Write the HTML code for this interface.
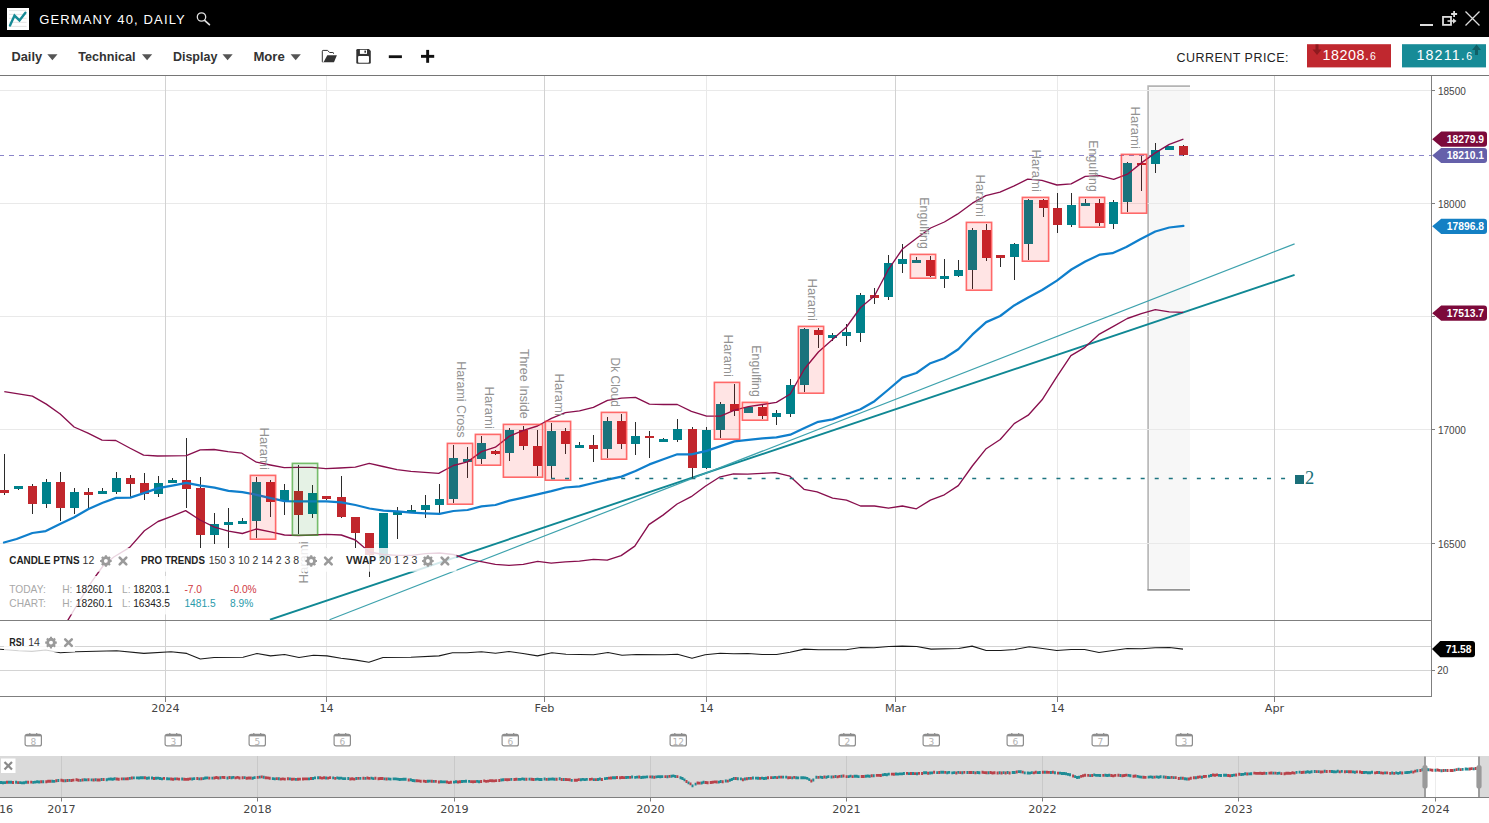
<!DOCTYPE html>
<html><head><meta charset="utf-8"><title>Germany 40, Daily</title>
<style>
html,body{margin:0;padding:0;background:#fff;}
body{width:1489px;height:823px;overflow:hidden;}
svg{display:block;}
text{font-family:"Liberation Sans",Arial,sans-serif;}
.pl{font-size:12.6px;fill:#929292;}
.ax{font-size:10px;fill:#444;}
.tg{font-size:10.3px;font-weight:bold;fill:#fff;}
.dt{font-family:"DejaVu Sans","Liberation Sans",sans-serif;font-size:11.2px;fill:#444;}
.cal{font-family:"DejaVu Sans",sans-serif;font-size:9px;fill:#b3b3b3;}
.lb{font-size:10.6px;font-weight:bold;fill:#222;}
.ln{font-size:10.5px;fill:#333;}
.st{font-size:10.2px;}
.ttl{font-size:13px;fill:#fff;}
.mi{font-size:12.6px;font-weight:bold;fill:#333;}
.cp{font-size:12.5px;fill:#222;}
.pb{font-size:14.3px;fill:#fff;letter-spacing:0.55px;}
</style></head><body>
<svg width="1489" height="823" viewBox="0 0 1489 823">
<defs><clipPath id="cc"><rect x="0" y="76" width="1431" height="544"/></clipPath></defs>
<rect x="0" y="0" width="1489" height="823" fill="#fff"/>
<rect x="1149.4" y="87.4" width="40.6" height="501.2" fill="#f7f7f7"/>
<path d="M1148.1 590 V86.1 H1190" fill="none" stroke="#b4b4b4" stroke-width="1.6"/>
<line x1="1147.4" y1="589.8" x2="1190" y2="589.8" stroke="#959595" stroke-width="1.8"/>
<line x1="0" y1="90.5" x2="1431" y2="90.5" stroke="#e9e9e9"/>
<line x1="0" y1="203.5" x2="1431" y2="203.5" stroke="#e9e9e9"/>
<line x1="0" y1="316.5" x2="1431" y2="316.5" stroke="#e9e9e9"/>
<line x1="0" y1="429.5" x2="1431" y2="429.5" stroke="#e9e9e9"/>
<line x1="0" y1="543.5" x2="1431" y2="543.5" stroke="#e9e9e9"/>
<line x1="165.5" y1="76" x2="165.5" y2="696" stroke="#d2d2d2"/>
<line x1="326.5" y1="76" x2="326.5" y2="696" stroke="#e9e9e9"/>
<line x1="544.5" y1="76" x2="544.5" y2="696" stroke="#d2d2d2"/>
<line x1="706.5" y1="76" x2="706.5" y2="696" stroke="#e9e9e9"/>
<line x1="895.5" y1="76" x2="895.5" y2="696" stroke="#d2d2d2"/>
<line x1="1057.5" y1="76" x2="1057.5" y2="696" stroke="#e9e9e9"/>
<line x1="1274.5" y1="76" x2="1274.5" y2="696" stroke="#d2d2d2"/>
<line x1="0" y1="646.5" x2="1431" y2="646.5" stroke="#d4d4d4"/>
<line x1="0" y1="670.5" x2="1431" y2="670.5" stroke="#d4d4d4"/>
<line x1="0" y1="155.5" x2="1431" y2="155.5" stroke="#8a84c9" stroke-width="1.2" stroke-dasharray="5 5" stroke-dashoffset="1"/>
<line clip-path="url(#cc)" x1="270" y1="619.7" x2="1294.6" y2="274.9" stroke="#108894" stroke-width="1.9"/>
<line clip-path="url(#cc)" x1="329.5" y1="619.7" x2="1294.6" y2="243.9" stroke="#3ea2ad" stroke-width="1.2"/>
<line x1="4.5" y1="454" x2="4.5" y2="495" stroke="#2b2b2b" stroke-width="1"/>
<rect x="0" y="490" width="9" height="3" fill="#c1272d"/>
<line x1="18.5" y1="486" x2="18.5" y2="490" stroke="#2b2b2b" stroke-width="1"/>
<rect x="14" y="486" width="9" height="3" fill="#00818b"/>
<line x1="32.5" y1="484" x2="32.5" y2="514" stroke="#2b2b2b" stroke-width="1"/>
<rect x="28" y="486" width="9" height="18" fill="#c1272d"/>
<line x1="46.5" y1="479" x2="46.5" y2="508" stroke="#2b2b2b" stroke-width="1"/>
<rect x="42" y="482" width="9" height="22" fill="#00818b"/>
<line x1="60.5" y1="472" x2="60.5" y2="521" stroke="#2b2b2b" stroke-width="1"/>
<rect x="56" y="482" width="9" height="26" fill="#c1272d"/>
<line x1="74.5" y1="488" x2="74.5" y2="514" stroke="#2b2b2b" stroke-width="1"/>
<rect x="70" y="492" width="9" height="16" fill="#00818b"/>
<line x1="88.5" y1="488" x2="88.5" y2="508" stroke="#2b2b2b" stroke-width="1"/>
<rect x="84" y="492" width="9" height="3" fill="#c1272d"/>
<line x1="102.5" y1="488" x2="102.5" y2="494" stroke="#2b2b2b" stroke-width="1"/>
<rect x="98" y="491" width="9" height="3" fill="#00818b"/>
<line x1="116.5" y1="472" x2="116.5" y2="494" stroke="#2b2b2b" stroke-width="1"/>
<rect x="112" y="478" width="9" height="14" fill="#00818b"/>
<line x1="130.5" y1="475" x2="130.5" y2="497" stroke="#2b2b2b" stroke-width="1"/>
<rect x="126" y="478" width="9" height="6" fill="#c1272d"/>
<line x1="144.5" y1="473" x2="144.5" y2="500" stroke="#2b2b2b" stroke-width="1"/>
<rect x="140" y="483" width="9" height="11" fill="#c1272d"/>
<line x1="158.5" y1="476" x2="158.5" y2="497" stroke="#2b2b2b" stroke-width="1"/>
<rect x="154" y="483" width="9" height="11" fill="#00818b"/>
<line x1="172.5" y1="478" x2="172.5" y2="483" stroke="#2b2b2b" stroke-width="1"/>
<rect x="168" y="480" width="9" height="3" fill="#00818b"/>
<line x1="186.5" y1="438" x2="186.5" y2="508" stroke="#2b2b2b" stroke-width="1"/>
<rect x="182" y="480" width="9" height="9" fill="#c1272d"/>
<line x1="200.5" y1="477" x2="200.5" y2="548" stroke="#2b2b2b" stroke-width="1"/>
<rect x="196" y="488" width="9" height="47" fill="#c1272d"/>
<line x1="214.5" y1="513" x2="214.5" y2="544" stroke="#2b2b2b" stroke-width="1"/>
<rect x="210" y="524" width="9" height="11" fill="#00818b"/>
<line x1="228.5" y1="508" x2="228.5" y2="548" stroke="#2b2b2b" stroke-width="1"/>
<rect x="224" y="522" width="9" height="3" fill="#00818b"/>
<line x1="242.5" y1="518" x2="242.5" y2="524" stroke="#2b2b2b" stroke-width="1"/>
<rect x="238" y="521" width="9" height="3" fill="#00818b"/>
<line x1="256.5" y1="477" x2="256.5" y2="538" stroke="#2b2b2b" stroke-width="1"/>
<rect x="252" y="482" width="9" height="39" fill="#00818b"/>
<line x1="270.5" y1="480" x2="270.5" y2="517" stroke="#2b2b2b" stroke-width="1"/>
<rect x="266" y="482" width="9" height="20" fill="#c1272d"/>
<line x1="284.5" y1="484" x2="284.5" y2="515" stroke="#2b2b2b" stroke-width="1"/>
<rect x="280" y="490" width="9" height="11" fill="#00818b"/>
<line x1="298.5" y1="465" x2="298.5" y2="534" stroke="#2b2b2b" stroke-width="1"/>
<rect x="294" y="491" width="9" height="24" fill="#c1272d"/>
<line x1="312.5" y1="485" x2="312.5" y2="518" stroke="#2b2b2b" stroke-width="1"/>
<rect x="308" y="493" width="9" height="21" fill="#00818b"/>
<line x1="326.5" y1="496" x2="326.5" y2="500" stroke="#2b2b2b" stroke-width="1"/>
<rect x="322" y="496" width="9" height="3" fill="#c1272d"/>
<line x1="341.5" y1="476" x2="341.5" y2="518" stroke="#2b2b2b" stroke-width="1"/>
<rect x="337" y="497" width="9" height="20" fill="#c1272d"/>
<line x1="355.5" y1="517" x2="355.5" y2="548" stroke="#2b2b2b" stroke-width="1"/>
<rect x="351" y="517" width="9" height="16" fill="#c1272d"/>
<line x1="369.5" y1="533" x2="369.5" y2="577" stroke="#2b2b2b" stroke-width="1"/>
<rect x="365" y="533" width="9" height="22" fill="#c1272d"/>
<line x1="383.5" y1="513" x2="383.5" y2="561" stroke="#2b2b2b" stroke-width="1"/>
<rect x="379" y="513" width="9" height="48" fill="#00818b"/>
<line x1="397.5" y1="507" x2="397.5" y2="539" stroke="#2b2b2b" stroke-width="1"/>
<rect x="393" y="511" width="9" height="4" fill="#00818b"/>
<line x1="411.5" y1="505" x2="411.5" y2="513" stroke="#2b2b2b" stroke-width="1"/>
<rect x="407" y="510" width="9" height="3" fill="#00818b"/>
<line x1="425.5" y1="495" x2="425.5" y2="518" stroke="#2b2b2b" stroke-width="1"/>
<rect x="421" y="505" width="9" height="5" fill="#00818b"/>
<line x1="439.5" y1="484" x2="439.5" y2="515" stroke="#2b2b2b" stroke-width="1"/>
<rect x="435" y="499" width="9" height="6" fill="#00818b"/>
<line x1="453.5" y1="445" x2="453.5" y2="503" stroke="#2b2b2b" stroke-width="1"/>
<rect x="449" y="458" width="9" height="41" fill="#00818b"/>
<line x1="467.5" y1="447" x2="467.5" y2="478" stroke="#2b2b2b" stroke-width="1"/>
<rect x="463" y="459" width="9" height="3" fill="#00818b"/>
<line x1="481.5" y1="436" x2="481.5" y2="464" stroke="#2b2b2b" stroke-width="1"/>
<rect x="477" y="443" width="9" height="16" fill="#00818b"/>
<line x1="495.5" y1="450" x2="495.5" y2="455" stroke="#2b2b2b" stroke-width="1"/>
<rect x="491" y="451" width="9" height="3" fill="#c1272d"/>
<line x1="509.5" y1="428" x2="509.5" y2="461" stroke="#2b2b2b" stroke-width="1"/>
<rect x="505" y="430" width="9" height="23" fill="#00818b"/>
<line x1="523.5" y1="426" x2="523.5" y2="450" stroke="#2b2b2b" stroke-width="1"/>
<rect x="519" y="430" width="9" height="16" fill="#c1272d"/>
<line x1="537.5" y1="430" x2="537.5" y2="476" stroke="#2b2b2b" stroke-width="1"/>
<rect x="533" y="446" width="9" height="20" fill="#c1272d"/>
<line x1="551.5" y1="423" x2="551.5" y2="479" stroke="#2b2b2b" stroke-width="1"/>
<rect x="547" y="431" width="9" height="35" fill="#00818b"/>
<line x1="565.5" y1="428" x2="565.5" y2="454" stroke="#2b2b2b" stroke-width="1"/>
<rect x="561" y="431" width="9" height="13" fill="#c1272d"/>
<line x1="579.5" y1="442" x2="579.5" y2="448" stroke="#2b2b2b" stroke-width="1"/>
<rect x="575" y="445" width="9" height="3" fill="#00818b"/>
<line x1="593.5" y1="435" x2="593.5" y2="462" stroke="#2b2b2b" stroke-width="1"/>
<rect x="589" y="445" width="9" height="4" fill="#c1272d"/>
<line x1="607.5" y1="417" x2="607.5" y2="458" stroke="#2b2b2b" stroke-width="1"/>
<rect x="603" y="421" width="9" height="28" fill="#00818b"/>
<line x1="621.5" y1="414" x2="621.5" y2="449" stroke="#2b2b2b" stroke-width="1"/>
<rect x="617" y="421" width="9" height="23" fill="#c1272d"/>
<line x1="635.5" y1="422" x2="635.5" y2="455" stroke="#2b2b2b" stroke-width="1"/>
<rect x="631" y="436" width="9" height="8" fill="#00818b"/>
<line x1="649.5" y1="431" x2="649.5" y2="458" stroke="#2b2b2b" stroke-width="1"/>
<rect x="645" y="436" width="9" height="2" fill="#c1272d"/>
<line x1="663.5" y1="438" x2="663.5" y2="442" stroke="#2b2b2b" stroke-width="1"/>
<rect x="659" y="439" width="9" height="3" fill="#00818b"/>
<line x1="677.5" y1="419" x2="677.5" y2="442" stroke="#2b2b2b" stroke-width="1"/>
<rect x="673" y="429" width="9" height="11" fill="#00818b"/>
<line x1="692.5" y1="427" x2="692.5" y2="478" stroke="#2b2b2b" stroke-width="1"/>
<rect x="688" y="429" width="9" height="39" fill="#c1272d"/>
<line x1="706.5" y1="427" x2="706.5" y2="469" stroke="#2b2b2b" stroke-width="1"/>
<rect x="702" y="430" width="9" height="38" fill="#00818b"/>
<line x1="720.5" y1="402" x2="720.5" y2="438" stroke="#2b2b2b" stroke-width="1"/>
<rect x="716" y="404" width="9" height="26" fill="#00818b"/>
<line x1="734.5" y1="384" x2="734.5" y2="416" stroke="#2b2b2b" stroke-width="1"/>
<rect x="730" y="404" width="9" height="7" fill="#c1272d"/>
<line x1="748.5" y1="406" x2="748.5" y2="413" stroke="#2b2b2b" stroke-width="1"/>
<rect x="744" y="407" width="9" height="6" fill="#00818b"/>
<line x1="762.5" y1="404" x2="762.5" y2="419" stroke="#2b2b2b" stroke-width="1"/>
<rect x="758" y="407" width="9" height="9" fill="#c1272d"/>
<line x1="776.5" y1="410" x2="776.5" y2="425" stroke="#2b2b2b" stroke-width="1"/>
<rect x="772" y="413" width="9" height="4" fill="#00818b"/>
<line x1="790.5" y1="379" x2="790.5" y2="417" stroke="#2b2b2b" stroke-width="1"/>
<rect x="786" y="385" width="9" height="29" fill="#00818b"/>
<line x1="804.5" y1="328" x2="804.5" y2="392" stroke="#2b2b2b" stroke-width="1"/>
<rect x="800" y="329" width="9" height="56" fill="#00818b"/>
<line x1="818.5" y1="328" x2="818.5" y2="348" stroke="#2b2b2b" stroke-width="1"/>
<rect x="814" y="330" width="9" height="5" fill="#c1272d"/>
<line x1="832.5" y1="333" x2="832.5" y2="341" stroke="#2b2b2b" stroke-width="1"/>
<rect x="828" y="335" width="9" height="3" fill="#00818b"/>
<line x1="846.5" y1="324" x2="846.5" y2="346" stroke="#2b2b2b" stroke-width="1"/>
<rect x="842" y="332" width="9" height="4" fill="#00818b"/>
<line x1="860.5" y1="293" x2="860.5" y2="342" stroke="#2b2b2b" stroke-width="1"/>
<rect x="856" y="295" width="9" height="38" fill="#00818b"/>
<line x1="874.5" y1="288" x2="874.5" y2="304" stroke="#2b2b2b" stroke-width="1"/>
<rect x="870" y="295" width="9" height="3" fill="#c1272d"/>
<line x1="888.5" y1="255" x2="888.5" y2="300" stroke="#2b2b2b" stroke-width="1"/>
<rect x="884" y="263" width="9" height="34" fill="#00818b"/>
<line x1="902.5" y1="244" x2="902.5" y2="273" stroke="#2b2b2b" stroke-width="1"/>
<rect x="898" y="259" width="9" height="5" fill="#00818b"/>
<line x1="916.5" y1="257" x2="916.5" y2="263" stroke="#2b2b2b" stroke-width="1"/>
<rect x="912" y="260" width="9" height="3" fill="#00818b"/>
<line x1="930.5" y1="256" x2="930.5" y2="277" stroke="#2b2b2b" stroke-width="1"/>
<rect x="926" y="260" width="9" height="16" fill="#c1272d"/>
<line x1="944.5" y1="259" x2="944.5" y2="288" stroke="#2b2b2b" stroke-width="1"/>
<rect x="940" y="276" width="9" height="3" fill="#00818b"/>
<line x1="958.5" y1="260" x2="958.5" y2="277" stroke="#2b2b2b" stroke-width="1"/>
<rect x="954" y="270" width="9" height="6" fill="#00818b"/>
<line x1="972.5" y1="228" x2="972.5" y2="289" stroke="#2b2b2b" stroke-width="1"/>
<rect x="968" y="230" width="9" height="40" fill="#00818b"/>
<line x1="986.5" y1="224" x2="986.5" y2="261" stroke="#2b2b2b" stroke-width="1"/>
<rect x="982" y="230" width="9" height="28" fill="#c1272d"/>
<line x1="1000.5" y1="255" x2="1000.5" y2="267" stroke="#2b2b2b" stroke-width="1"/>
<rect x="996" y="255" width="9" height="3" fill="#c1272d"/>
<line x1="1014.5" y1="243" x2="1014.5" y2="280" stroke="#2b2b2b" stroke-width="1"/>
<rect x="1010" y="244" width="9" height="13" fill="#00818b"/>
<line x1="1028.5" y1="199" x2="1028.5" y2="260" stroke="#2b2b2b" stroke-width="1"/>
<rect x="1024" y="200" width="9" height="44" fill="#00818b"/>
<line x1="1043.5" y1="199" x2="1043.5" y2="217" stroke="#2b2b2b" stroke-width="1"/>
<rect x="1039" y="200" width="9" height="8" fill="#c1272d"/>
<line x1="1057.5" y1="193" x2="1057.5" y2="233" stroke="#2b2b2b" stroke-width="1"/>
<rect x="1053" y="208" width="9" height="17" fill="#c1272d"/>
<line x1="1071.5" y1="193" x2="1071.5" y2="227" stroke="#2b2b2b" stroke-width="1"/>
<rect x="1067" y="205" width="9" height="20" fill="#00818b"/>
<line x1="1085.5" y1="199" x2="1085.5" y2="206" stroke="#2b2b2b" stroke-width="1"/>
<rect x="1081" y="203" width="9" height="3" fill="#00818b"/>
<line x1="1099.5" y1="199" x2="1099.5" y2="226" stroke="#2b2b2b" stroke-width="1"/>
<rect x="1095" y="203" width="9" height="20" fill="#c1272d"/>
<line x1="1113.5" y1="200" x2="1113.5" y2="229" stroke="#2b2b2b" stroke-width="1"/>
<rect x="1109" y="202" width="9" height="22" fill="#00818b"/>
<line x1="1127.5" y1="162" x2="1127.5" y2="212" stroke="#2b2b2b" stroke-width="1"/>
<rect x="1123" y="163" width="9" height="39" fill="#00818b"/>
<line x1="1141.5" y1="156" x2="1141.5" y2="191" stroke="#2b2b2b" stroke-width="1"/>
<rect x="1137" y="163" width="9" height="2" fill="#c1272d"/>
<line x1="1155.5" y1="143" x2="1155.5" y2="173" stroke="#2b2b2b" stroke-width="1"/>
<rect x="1151" y="150" width="9" height="14" fill="#00818b"/>
<line x1="1169.5" y1="146" x2="1169.5" y2="150" stroke="#2b2b2b" stroke-width="1"/>
<rect x="1165" y="146" width="9" height="4" fill="#00818b"/>
<line x1="1183.5" y1="145" x2="1183.5" y2="156" stroke="#2b2b2b" stroke-width="1"/>
<rect x="1179" y="146" width="9" height="9" fill="#c1272d"/>
<polyline points="4.3,391.7 32.4,396.1 46.3,404.1 60.2,414 74.1,427 88,433.1 102,440.2 115.8,440.5 129.7,448 143.6,455.1 157.5,456 186.3,455.7 200.2,449.8 214,449.5 228,451.7 241.9,453.2 256.4,462.2 270.3,465 284.2,467.7 298.1,467.4 312,467.4 325.9,468.7 339.8,468 355.3,467.1 369.2,463.4 383,466.5 397,469.6 410.9,471.4 438.7,473.3 453.4,465.5 467.5,461.9 481.5,451.6 495.4,447.2 509.5,436.1 523.4,430.3 537.5,426 551.4,418.4 565.4,412.6 579.5,410.9 593.4,407.4 607.5,400.3 621.5,398.2 635.5,397.4 649.4,404.2 663.4,404.5 677.3,404.5 691.4,411.3 706.6,416.1 720.5,416.1 734.5,410.2 748.4,406.6 762.5,404.5 776.4,402.3 790.3,394 804.4,369 818.4,352 832.5,339.5 846.5,327 860.6,307.5 874.4,296 888.5,269.3 902.5,249 916.6,238.3 930.6,228 944.4,222 957.4,214.2 972.4,203.2 985.8,195.6 1000,192.1 1014.2,185.8 1027.7,179.2 1041.9,180.3 1056.9,185 1071.1,183.9 1085.3,176.3 1099.5,175.7 1113.7,179.3 1127.4,174.2 1141.5,162.9 1155.3,152.9 1169.3,144.3 1183.4,139.2" fill="none" stroke="#880f4d" stroke-width="1.35" stroke-linejoin="round"/>
<polyline clip-path="url(#cc)" points="60.6,632 67.9,620.2 74.6,609 80.6,599.1 88.6,586.5 92.1,581.2 103,566 113.8,557 129.7,547.4 144.4,530.8 158,521.5 172.2,516.1 185.6,510.6 200,520 214.5,527.2 228.5,531.1 242.4,533.5 256.5,529 270.6,531.9 284.5,535 298.5,535.5 312.6,535 326.5,534.3 341.3,535 355.4,540 369.4,552 383.4,554.5 397.3,555.3 411.4,555.3 425.5,553.7 439.5,553 453.4,554.5 467.5,559.3 481.2,561.6 495.3,564.3 509,565.3 523.3,564.3 537.7,561.4 551.2,563.2 565.3,561.8 579.4,561.2 593.5,559.4 607.2,560.2 621.1,555.6 634.8,546.1 648.9,524.6 663,515.1 677.1,504 691.2,496.7 705.3,486.3 719.4,477.2 733.5,473.8 747.6,474.2 761.7,473.4 775.4,472.6 789.9,476.2 804,489.3 817.1,491.9 832.6,498.2 846.5,500.1 860.5,506 874.5,506 888.5,508.2 902.4,506 916.4,508.8 930.4,500.1 944.3,494.8 958.3,485.6 972.3,466 986.2,448.7 1000.2,439.5 1014.2,423.6 1028.2,415.2 1042.1,399.8 1056.9,376.6 1070.9,355.7 1084.9,347.3 1099.4,334.1 1113.4,326.3 1127.3,318.5 1141.3,313.7 1155.3,309.6 1169.3,311.8 1183.2,312.4" fill="none" stroke="#880f4d" stroke-width="1.35" stroke-linejoin="round"/>
<polyline points="4,542.5 16.6,539 32.4,533 45.8,531.1 60,524 74.2,517.2 88.5,509 102.7,502.7 116.1,497.9 130.3,497.6 144.5,492.9 158.3,488.1 172.2,485.6 186.4,482.9 200.6,485.6 214.5,487.7 228.5,490.8 242.4,492.1 256.5,494.8 270.6,498.2 284.5,501.1 298.5,501.4 312.6,501.4 326.5,501.4 341.3,502.4 355.4,505 369.5,508.5 383.5,510.6 397.3,511.4 411.4,512.7 425.5,513.4 439.5,513.9 453.4,511 467.5,510 481.5,506.4 495.4,505 509.5,500.7 523.4,497.6 537.5,494.3 551.4,491.1 565.4,487.5 579.5,486.4 593.4,483 607.5,479.7 621.5,476.6 635.5,471 649.4,464.4 663.4,459.3 677.3,454.3 691.4,454.3 706.6,450.9 720.5,446.1 734.5,441.4 748.4,439.8 762.5,438.4 776.4,437.4 790.3,434.7 804.5,428 818.2,421.8 832.6,419.4 846.5,414.3 860.5,409.3 874.5,401.2 888.5,389.5 902.4,377.6 916.4,373 930.4,363.2 944.3,358.3 958.3,349.2 972.3,334.7 986.2,322.1 1000.2,316 1014.2,305.4 1028.2,297.5 1042.1,290 1056.9,280.6 1071.4,269.5 1085.3,261.6 1100,254.6 1112.4,253.2 1126.3,247 1140.3,239.2 1155.3,231.5 1169.3,227.5 1183.4,225.8" fill="none" stroke="#0f7fcc" stroke-width="2.25" stroke-linejoin="round" stroke-linecap="round"/>
<rect x="249.6" y="474.6" width="26.8" height="65.4" fill="#ff0000" fill-opacity="0.105"/>
<rect x="250.4" y="475.4" width="25.2" height="63.8" fill="none" stroke="#ff4040" stroke-opacity="0.75" stroke-width="1.6"/>
<rect x="291.6" y="462.6" width="26.8" height="73.4" fill="#008000" fill-opacity="0.1"/>
<rect x="292.4" y="463.4" width="25.2" height="71.8" fill="none" stroke="#3aa02a" stroke-opacity="0.65" stroke-width="1.6"/>
<rect x="446.6" y="442.6" width="26.8" height="62.4" fill="#ff0000" fill-opacity="0.105"/>
<rect x="447.4" y="443.4" width="25.2" height="60.8" fill="none" stroke="#ff4040" stroke-opacity="0.75" stroke-width="1.6"/>
<rect x="474.6" y="433.6" width="26.8" height="32.4" fill="#ff0000" fill-opacity="0.105"/>
<rect x="475.4" y="434.4" width="25.2" height="30.8" fill="none" stroke="#ff4040" stroke-opacity="0.75" stroke-width="1.6"/>
<rect x="502.6" y="423.6" width="40.8" height="54.4" fill="#ff0000" fill-opacity="0.105"/>
<rect x="503.4" y="424.4" width="39.2" height="52.8" fill="none" stroke="#ff4040" stroke-opacity="0.75" stroke-width="1.6"/>
<rect x="544.6" y="420.6" width="26.8" height="60.4" fill="#ff0000" fill-opacity="0.105"/>
<rect x="545.4" y="421.4" width="25.2" height="58.8" fill="none" stroke="#ff4040" stroke-opacity="0.75" stroke-width="1.6"/>
<rect x="600.6" y="411.6" width="26.8" height="48.4" fill="#ff0000" fill-opacity="0.105"/>
<rect x="601.4" y="412.4" width="25.2" height="46.8" fill="none" stroke="#ff4040" stroke-opacity="0.75" stroke-width="1.6"/>
<rect x="713.6" y="381.6" width="26.8" height="58.4" fill="#ff0000" fill-opacity="0.105"/>
<rect x="714.4" y="382.4" width="25.2" height="56.8" fill="none" stroke="#ff4040" stroke-opacity="0.75" stroke-width="1.6"/>
<rect x="741.6" y="401.6" width="26.8" height="19.4" fill="#ff0000" fill-opacity="0.105"/>
<rect x="742.4" y="402.4" width="25.2" height="17.8" fill="none" stroke="#ff4040" stroke-opacity="0.75" stroke-width="1.6"/>
<rect x="797.6" y="325.6" width="26.8" height="68.4" fill="#ff0000" fill-opacity="0.105"/>
<rect x="798.4" y="326.4" width="25.2" height="66.8" fill="none" stroke="#ff4040" stroke-opacity="0.75" stroke-width="1.6"/>
<rect x="909.6" y="253.6" width="26.8" height="25.4" fill="#ff0000" fill-opacity="0.105"/>
<rect x="910.4" y="254.4" width="25.2" height="23.8" fill="none" stroke="#ff4040" stroke-opacity="0.75" stroke-width="1.6"/>
<rect x="965.6" y="221.6" width="26.8" height="69.4" fill="#ff0000" fill-opacity="0.105"/>
<rect x="966.4" y="222.4" width="25.2" height="67.8" fill="none" stroke="#ff4040" stroke-opacity="0.75" stroke-width="1.6"/>
<rect x="1021.6" y="196.6" width="27.8" height="65.4" fill="#ff0000" fill-opacity="0.105"/>
<rect x="1022.4" y="197.4" width="26.2" height="63.8" fill="none" stroke="#ff4040" stroke-opacity="0.75" stroke-width="1.6"/>
<rect x="1078.6" y="196.6" width="26.8" height="31.4" fill="#ff0000" fill-opacity="0.105"/>
<rect x="1079.4" y="197.4" width="25.2" height="29.8" fill="none" stroke="#ff4040" stroke-opacity="0.75" stroke-width="1.6"/>
<rect x="1120.6" y="153.6" width="26.8" height="60.4" fill="#ff0000" fill-opacity="0.105"/>
<rect x="1121.4" y="154.4" width="25.2" height="58.8" fill="none" stroke="#ff4040" stroke-opacity="0.75" stroke-width="1.6"/>
<line x1="551" y1="478.6" x2="1285.5" y2="478.6" stroke="#1d7480" stroke-width="1.5" stroke-dasharray="4 10.04"/>
<rect x="1295" y="475" width="9" height="9" fill="#1a6f79"/>
<text x="1305" y="484" style="font-family:'Liberation Serif',serif;font-size:18.5px" fill="#1a6f79">2</text>
<text transform="translate(259.9,469.8) rotate(90)" text-anchor="end" class="pl" textLength="42.3" lengthAdjust="spacingAndGlyphs">Harami</text>
<text transform="translate(308.1,541.3) rotate(-90)" text-anchor="end" class="pl" textLength="42.3" lengthAdjust="spacingAndGlyphs">Harami</text>
<text transform="translate(456.9,437.8) rotate(90)" text-anchor="end" class="pl" textLength="76.5" lengthAdjust="spacingAndGlyphs">Harami Cross</text>
<text transform="translate(484.9,428.8) rotate(90)" text-anchor="end" class="pl" textLength="42.3" lengthAdjust="spacingAndGlyphs">Harami</text>
<text transform="translate(519.9,418.8) rotate(90)" text-anchor="end" class="pl" textLength="69.9" lengthAdjust="spacingAndGlyphs">Three Inside</text>
<text transform="translate(554.9,415.8) rotate(90)" text-anchor="end" class="pl" textLength="42.3" lengthAdjust="spacingAndGlyphs">Harami</text>
<text transform="translate(610.9,406.8) rotate(90)" text-anchor="end" class="pl" textLength="49.2" lengthAdjust="spacingAndGlyphs">Dk Cloud</text>
<text transform="translate(723.9,376.8) rotate(90)" text-anchor="end" class="pl" textLength="42.3" lengthAdjust="spacingAndGlyphs">Harami</text>
<text transform="translate(751.9,396.8) rotate(90)" text-anchor="end" class="pl" textLength="51.5" lengthAdjust="spacingAndGlyphs">Engulfing</text>
<text transform="translate(807.9,320.8) rotate(90)" text-anchor="end" class="pl" textLength="42.3" lengthAdjust="spacingAndGlyphs">Harami</text>
<text transform="translate(919.9,248.8) rotate(90)" text-anchor="end" class="pl" textLength="51.5" lengthAdjust="spacingAndGlyphs">Engulfing</text>
<text transform="translate(975.9,216.8) rotate(90)" text-anchor="end" class="pl" textLength="42.3" lengthAdjust="spacingAndGlyphs">Harami</text>
<text transform="translate(1032.4,191.8) rotate(90)" text-anchor="end" class="pl" textLength="42.3" lengthAdjust="spacingAndGlyphs">Harami</text>
<text transform="translate(1088.9,191.8) rotate(90)" text-anchor="end" class="pl" textLength="51.5" lengthAdjust="spacingAndGlyphs">Engulfing</text>
<text transform="translate(1130.9,148.8) rotate(90)" text-anchor="end" class="pl" textLength="42.3" lengthAdjust="spacingAndGlyphs">Harami</text>
<rect x="0" y="548" width="456.5" height="23.7" fill="#fff" fill-opacity="0.82"/>
<rect x="0" y="576" width="262" height="38.4" fill="#fff" fill-opacity="0.82"/>
<polyline points="0,649.3 18.5,650.7 32,651.4 45.7,650 60.3,652.8 75.8,651.8 116.7,650.8 143.9,653.4 171,651.8 186.7,653.4 200.3,659 214.1,657.5 243,657.2 257,653.5 270.5,655.9 284.6,654.5 299,657.5 313.5,655.2 327,655.9 341,658.2 354.5,659.9 368.9,662.2 383,657.5 410.9,657.2 439,655.9 452.5,652.8 467,652.8 481.4,651.8 495.5,653.2 509,651.5 523,653.5 537.5,655.9 551.9,652.8 566,654.2 593.5,654.8 608,652.5 622,655.2 636.5,654.5 664.4,654.8 677.5,654.2 692,658.2 705.1,654.8 720.2,653.2 733.7,653.8 747.8,653.5 762.2,654.5 776.6,654.5 790,652.2 804.2,649.1 818.6,649.8 846.1,649.8 860.6,647.5 874,647.8 888.8,646.5 902.2,646.1 916.7,646.5 931.1,649.1 958.6,648.5 972.1,646.1 986.2,650.5 1000.6,650.5 1015,649.5 1029.2,646.8 1042.6,648.5 1056.7,650.5 1071.1,649.5 1084.6,649.5 1099,652.5 1113.1,650.5 1127.2,648.5 1141.6,648.8 1155.1,647.8 1169.5,647.5 1183,649.1" fill="none" stroke="#1a1a1a" stroke-width="1.1" stroke-linejoin="round"/>
<rect x="4" y="633" width="71" height="19" fill="#fff" fill-opacity="0.8"/>
<line x1="0" y1="75.5" x2="1489" y2="75.5" stroke="#767676"/>
<line x1="0" y1="620.5" x2="1431" y2="620.5" stroke="#7f7f7f"/>
<line x1="0" y1="696.5" x2="1432" y2="696.5" stroke="#7f7f7f"/>
<line x1="1431.5" y1="76" x2="1431.5" y2="697" stroke="#7f7f7f"/>
<line x1="1431" y1="316.5" x2="1435" y2="316.5" stroke="#7f7f7f"/>
<line x1="1431" y1="90.5" x2="1435" y2="90.5" stroke="#7f7f7f"/>
<text x="1438" y="94.8" class="ax">18500</text>
<line x1="1431" y1="203.5" x2="1435" y2="203.5" stroke="#7f7f7f"/>
<text x="1438" y="207.8" class="ax">18000</text>
<line x1="1431" y1="429.5" x2="1435" y2="429.5" stroke="#7f7f7f"/>
<text x="1438" y="433.8" class="ax">17000</text>
<line x1="1431" y1="543.5" x2="1435" y2="543.5" stroke="#7f7f7f"/>
<text x="1438" y="547.8" class="ax">16500</text>
<line x1="1431" y1="670.5" x2="1435" y2="670.5" stroke="#7f7f7f"/>
<text x="1437.2" y="673.6" class="ax">20</text>
<path d="M1432.2 139.2 L1441.2 131.6 H1484 Q1487 131.6 1487 134.6 V143.8 Q1487 146.8 1484 146.8 H1441.2 Z" fill="#7c0a3b"/>
<text x="1484" y="142.8" class="tg" text-anchor="end">18279.9</text>
<path d="M1432.2 155.5 L1441.2 147.9 H1484 Q1487 147.9 1487 150.9 V160.1 Q1487 163.1 1484 163.1 H1441.2 Z" fill="#6560aa"/>
<text x="1484" y="159.1" class="tg" text-anchor="end">18210.1</text>
<path d="M1432.2 226.3 L1441.2 218.7 H1484 Q1487 218.7 1487 221.7 V230.9 Q1487 233.9 1484 233.9 H1441.2 Z" fill="#1480c4"/>
<text x="1484" y="229.9" class="tg" text-anchor="end">17896.8</text>
<path d="M1432.2 313.2 L1441.2 305.6 H1484 Q1487 305.6 1487 308.6 V317.8 Q1487 320.8 1484 320.8 H1441.2 Z" fill="#7c0a3b"/>
<text x="1484" y="316.8" class="tg" text-anchor="end">17513.7</text>
<path d="M1432 649.1 L1440.3 641.1 H1472 Q1475 641.1 1475 644.1 V654.2 Q1475 657.2 1472 657.2 H1440.3 Z" fill="#000"/>
<text x="1471.5" y="653" class="tg" text-anchor="end">71.58</text>
<line x1="165.5" y1="696" x2="165.5" y2="702" stroke="#7f7f7f"/>
<text x="165.5" y="712" class="dt" text-anchor="middle">2024</text>
<line x1="326.5" y1="696" x2="326.5" y2="702" stroke="#7f7f7f"/>
<text x="326.5" y="712" class="dt" text-anchor="middle">14</text>
<line x1="544.5" y1="696" x2="544.5" y2="702" stroke="#7f7f7f"/>
<text x="544.5" y="712" class="dt" text-anchor="middle">Feb</text>
<line x1="706.5" y1="696" x2="706.5" y2="702" stroke="#7f7f7f"/>
<text x="706.5" y="712" class="dt" text-anchor="middle">14</text>
<line x1="895.5" y1="696" x2="895.5" y2="702" stroke="#7f7f7f"/>
<text x="895.5" y="712" class="dt" text-anchor="middle">Mar</text>
<line x1="1057.5" y1="696" x2="1057.5" y2="702" stroke="#7f7f7f"/>
<text x="1057.5" y="712" class="dt" text-anchor="middle">14</text>
<line x1="1274.5" y1="696" x2="1274.5" y2="702" stroke="#7f7f7f"/>
<text x="1274.5" y="712" class="dt" text-anchor="middle">Apr</text>
<g transform="translate(24.5,733)"><rect x="0.6" y="1.3" width="16.3" height="11.6" rx="2" fill="#fff" stroke="#8d8d8d" stroke-width="1.2"/><line x1="1" y1="2.6" x2="16.5" y2="2.6" stroke="#8d8d8d" stroke-width="1.6"/><line x1="5.3" y1="0" x2="5.3" y2="2" stroke="#8d8d8d" stroke-width="1.2"/><line x1="12.2" y1="0" x2="12.2" y2="2" stroke="#8d8d8d" stroke-width="1.2"/><text x="8.75" y="11.6" text-anchor="middle" class="cal">8</text></g>
<g transform="translate(164.5,733)"><rect x="0.6" y="1.3" width="16.3" height="11.6" rx="2" fill="#fff" stroke="#8d8d8d" stroke-width="1.2"/><line x1="1" y1="2.6" x2="16.5" y2="2.6" stroke="#8d8d8d" stroke-width="1.6"/><line x1="5.3" y1="0" x2="5.3" y2="2" stroke="#8d8d8d" stroke-width="1.2"/><line x1="12.2" y1="0" x2="12.2" y2="2" stroke="#8d8d8d" stroke-width="1.2"/><text x="8.75" y="11.6" text-anchor="middle" class="cal">3</text></g>
<g transform="translate(248.5,733)"><rect x="0.6" y="1.3" width="16.3" height="11.6" rx="2" fill="#fff" stroke="#8d8d8d" stroke-width="1.2"/><line x1="1" y1="2.6" x2="16.5" y2="2.6" stroke="#8d8d8d" stroke-width="1.6"/><line x1="5.3" y1="0" x2="5.3" y2="2" stroke="#8d8d8d" stroke-width="1.2"/><line x1="12.2" y1="0" x2="12.2" y2="2" stroke="#8d8d8d" stroke-width="1.2"/><text x="8.75" y="11.6" text-anchor="middle" class="cal">5</text></g>
<g transform="translate(333.5,733)"><rect x="0.6" y="1.3" width="16.3" height="11.6" rx="2" fill="#fff" stroke="#8d8d8d" stroke-width="1.2"/><line x1="1" y1="2.6" x2="16.5" y2="2.6" stroke="#8d8d8d" stroke-width="1.6"/><line x1="5.3" y1="0" x2="5.3" y2="2" stroke="#8d8d8d" stroke-width="1.2"/><line x1="12.2" y1="0" x2="12.2" y2="2" stroke="#8d8d8d" stroke-width="1.2"/><text x="8.75" y="11.6" text-anchor="middle" class="cal">6</text></g>
<g transform="translate(501.5,733)"><rect x="0.6" y="1.3" width="16.3" height="11.6" rx="2" fill="#fff" stroke="#8d8d8d" stroke-width="1.2"/><line x1="1" y1="2.6" x2="16.5" y2="2.6" stroke="#8d8d8d" stroke-width="1.6"/><line x1="5.3" y1="0" x2="5.3" y2="2" stroke="#8d8d8d" stroke-width="1.2"/><line x1="12.2" y1="0" x2="12.2" y2="2" stroke="#8d8d8d" stroke-width="1.2"/><text x="8.75" y="11.6" text-anchor="middle" class="cal">6</text></g>
<g transform="translate(669.5,733)"><rect x="0.6" y="1.3" width="16.3" height="11.6" rx="2" fill="#fff" stroke="#8d8d8d" stroke-width="1.2"/><line x1="1" y1="2.6" x2="16.5" y2="2.6" stroke="#8d8d8d" stroke-width="1.6"/><line x1="5.3" y1="0" x2="5.3" y2="2" stroke="#8d8d8d" stroke-width="1.2"/><line x1="12.2" y1="0" x2="12.2" y2="2" stroke="#8d8d8d" stroke-width="1.2"/><text x="8.75" y="11.6" text-anchor="middle" class="cal">12</text></g>
<g transform="translate(838.5,733)"><rect x="0.6" y="1.3" width="16.3" height="11.6" rx="2" fill="#fff" stroke="#8d8d8d" stroke-width="1.2"/><line x1="1" y1="2.6" x2="16.5" y2="2.6" stroke="#8d8d8d" stroke-width="1.6"/><line x1="5.3" y1="0" x2="5.3" y2="2" stroke="#8d8d8d" stroke-width="1.2"/><line x1="12.2" y1="0" x2="12.2" y2="2" stroke="#8d8d8d" stroke-width="1.2"/><text x="8.75" y="11.6" text-anchor="middle" class="cal">2</text></g>
<g transform="translate(922.5,733)"><rect x="0.6" y="1.3" width="16.3" height="11.6" rx="2" fill="#fff" stroke="#8d8d8d" stroke-width="1.2"/><line x1="1" y1="2.6" x2="16.5" y2="2.6" stroke="#8d8d8d" stroke-width="1.6"/><line x1="5.3" y1="0" x2="5.3" y2="2" stroke="#8d8d8d" stroke-width="1.2"/><line x1="12.2" y1="0" x2="12.2" y2="2" stroke="#8d8d8d" stroke-width="1.2"/><text x="8.75" y="11.6" text-anchor="middle" class="cal">3</text></g>
<g transform="translate(1006.5,733)"><rect x="0.6" y="1.3" width="16.3" height="11.6" rx="2" fill="#fff" stroke="#8d8d8d" stroke-width="1.2"/><line x1="1" y1="2.6" x2="16.5" y2="2.6" stroke="#8d8d8d" stroke-width="1.6"/><line x1="5.3" y1="0" x2="5.3" y2="2" stroke="#8d8d8d" stroke-width="1.2"/><line x1="12.2" y1="0" x2="12.2" y2="2" stroke="#8d8d8d" stroke-width="1.2"/><text x="8.75" y="11.6" text-anchor="middle" class="cal">6</text></g>
<g transform="translate(1091.5,733)"><rect x="0.6" y="1.3" width="16.3" height="11.6" rx="2" fill="#fff" stroke="#8d8d8d" stroke-width="1.2"/><line x1="1" y1="2.6" x2="16.5" y2="2.6" stroke="#8d8d8d" stroke-width="1.6"/><line x1="5.3" y1="0" x2="5.3" y2="2" stroke="#8d8d8d" stroke-width="1.2"/><line x1="12.2" y1="0" x2="12.2" y2="2" stroke="#8d8d8d" stroke-width="1.2"/><text x="8.75" y="11.6" text-anchor="middle" class="cal">7</text></g>
<g transform="translate(1175.5,733)"><rect x="0.6" y="1.3" width="16.3" height="11.6" rx="2" fill="#fff" stroke="#8d8d8d" stroke-width="1.2"/><line x1="1" y1="2.6" x2="16.5" y2="2.6" stroke="#8d8d8d" stroke-width="1.6"/><line x1="5.3" y1="0" x2="5.3" y2="2" stroke="#8d8d8d" stroke-width="1.2"/><line x1="12.2" y1="0" x2="12.2" y2="2" stroke="#8d8d8d" stroke-width="1.2"/><text x="8.75" y="11.6" text-anchor="middle" class="cal">3</text></g>
<rect x="0" y="756" width="1489" height="41" fill="#dadada"/>
<rect x="1425" y="756" width="54" height="41" fill="#fff"/><line x1="1425" y1="756.5" x2="1479" y2="756.5" stroke="#e0e0e0"/>
<line x1="61.5" y1="756" x2="61.5" y2="797" stroke="#c9c9c9"/>
<line x1="257.5" y1="756" x2="257.5" y2="797" stroke="#c9c9c9"/>
<line x1="454.5" y1="756" x2="454.5" y2="797" stroke="#c9c9c9"/>
<line x1="650.5" y1="756" x2="650.5" y2="797" stroke="#c9c9c9"/>
<line x1="846.5" y1="756" x2="846.5" y2="797" stroke="#c9c9c9"/>
<line x1="1042.5" y1="756" x2="1042.5" y2="797" stroke="#c9c9c9"/>
<line x1="1238.5" y1="756" x2="1238.5" y2="797" stroke="#c9c9c9"/>
<line x1="1435.5" y1="756" x2="1435.5" y2="797" stroke="#ececec"/>
<path d="M0 781.03h2v2.9h-2zM2 781.26h2v2.9h-2zM4 781.18h2v2.9h-2zM8 780.83h2v2.9h-2zM10 780.85h2v2.9h-2zM15.1 780.87h2v2.9h-2zM19.1 781.14h2v2.9h-2zM21.1 781.39h2v2.9h-2zM23.1 781.28h2v2.9h-2zM25.1 780.75h2v2.9h-2zM32.2 780.88h2v2.9h-2zM34.2 780.71h2v2.9h-2zM36.2 780.27h2v2.9h-2zM38.2 780.6h2v2.9h-2zM42.2 780.23h2v2.9h-2zM51.3 779.85h2v2.9h-2zM53.3 779.89h2v2.9h-2zM57.3 779.05h2v2.9h-2zM64.4 779.25h2v2.9h-2zM68.4 778.91h2v2.9h-2zM79.5 778.88h2v2.9h-2zM83.5 778.32h2v2.9h-2zM85.5 778.42h2v2.9h-2zM90.6 778.39h2v2.9h-2zM94.6 778.36h2v2.9h-2zM100.6 778.09h2v2.9h-2zM105.7 778.24h2v2.9h-2zM107.7 777.63h2v2.9h-2zM109.7 777.6h2v2.9h-2zM111.7 777.78h2v2.9h-2zM113.7 777.31h2v2.9h-2zM122.8 777.42h2v2.9h-2zM128.8 776.9h2v2.9h-2zM132.8 776.46h2v2.9h-2zM135.9 776.45h2v2.9h-2zM137.9 776.54h2v2.9h-2zM139.9 776.3h2v2.9h-2zM141.9 776.37h2v2.9h-2zM145.9 776.73h2v2.9h-2zM147.9 776.48h2v2.9h-2zM151 776.6h2v2.9h-2zM155 776.87h2v2.9h-2zM157 776.7h2v2.9h-2zM159 776.98h2v2.9h-2zM161 777.41h2v2.9h-2zM166.1 777.37h2v2.9h-2zM168.1 777.44h2v2.9h-2zM174.1 777.44h2v2.9h-2zM181.2 777.53h2v2.9h-2zM191.2 777.5h2v2.9h-2zM193.2 777.13h2v2.9h-2zM198.3 777.45h2v2.9h-2zM202.3 777.18h2v2.9h-2zM204.3 776.53h2v2.9h-2zM206.3 776.41h2v2.9h-2zM211.4 776.69h2v2.9h-2zM219.4 776.37h2v2.9h-2zM226.5 776.48h2v2.9h-2zM230.5 776.31h2v2.9h-2zM232.5 775.89h2v2.9h-2zM243.6 776.15h2v2.9h-2zM251.6 776.81h2v2.9h-2zM253.6 776.21h2v2.9h-2zM258.7 775.71h2v2.9h-2zM262.7 775.79h2v2.9h-2zM271.8 777.21h2v2.9h-2zM273.8 777.41h2v2.9h-2zM277.8 777.29h2v2.9h-2zM288.9 777.47h2v2.9h-2zM294.9 777.94h2v2.9h-2zM308 777.43h2v2.9h-2zM312 777.04h2v2.9h-2zM314 776.38h2v2.9h-2zM317.1 776.29h2v2.9h-2zM325.1 776.54h2v2.9h-2zM332.2 776.43h2v2.9h-2zM336.2 776.46h2v2.9h-2zM338.2 776.8h2v2.9h-2zM340.2 776.67h2v2.9h-2zM342.2 777.15h2v2.9h-2zM344.2 777.17h2v2.9h-2zM347.3 777.01h2v2.9h-2zM355.3 777.08h2v2.9h-2zM359.3 776.88h2v2.9h-2zM364.4 776.88h2v2.9h-2zM370.4 776.68h2v2.9h-2zM372.4 777.2h2v2.9h-2zM383.5 777.43h2v2.9h-2zM387.5 777.43h2v2.9h-2zM389.5 777.68h2v2.9h-2zM392.6 777.45h2v2.9h-2zM394.6 777.44h2v2.9h-2zM396.6 777.67h2v2.9h-2zM398.6 778.02h2v2.9h-2zM400.6 777.88h2v2.9h-2zM402.6 777.81h2v2.9h-2zM404.6 777.82h2v2.9h-2zM409.7 778.35h2v2.9h-2zM411.7 779.1h2v2.9h-2zM413.7 779.24h2v2.9h-2zM426.8 779.83h2v2.9h-2zM428.8 779.65h2v2.9h-2zM432.8 779.92h2v2.9h-2zM439.9 780.28h2v2.9h-2zM441.9 780.4h2v2.9h-2zM443.9 780.41h2v2.9h-2zM453 780.64h2v2.9h-2zM455 780.31h2v2.9h-2zM461 780h2v2.9h-2zM463 779.95h2v2.9h-2zM465 779.83h2v2.9h-2zM468.1 779.97h2v2.9h-2zM476.1 779.92h2v2.9h-2zM478.1 780.31h2v2.9h-2zM500.3 778.53h2v2.9h-2zM502.3 778.31h2v2.9h-2zM510.3 777.94h2v2.9h-2zM517.4 777.91h2v2.9h-2zM519.4 777.93h2v2.9h-2zM521.4 777.43h2v2.9h-2zM523.4 777.84h2v2.9h-2zM528.5 777.71h2v2.9h-2zM534.5 777.94h2v2.9h-2zM536.5 777.63h2v2.9h-2zM538.5 778.09h2v2.9h-2zM540.5 777.99h2v2.9h-2zM543.6 777.53h2v2.9h-2zM547.6 777.83h2v2.9h-2zM549.6 777.65h2v2.9h-2zM551.6 777.55h2v2.9h-2zM553.6 777.78h2v2.9h-2zM558.7 777.37h2v2.9h-2zM562.7 777.99h2v2.9h-2zM570.7 778.96h2v2.9h-2zM579.8 778.33h2v2.9h-2zM581.8 777.93h2v2.9h-2zM583.8 778.18h2v2.9h-2zM585.8 777.89h2v2.9h-2zM592.9 778.15h2v2.9h-2zM596.9 778.06h2v2.9h-2zM598.9 777.62h2v2.9h-2zM604 777.22h2v2.9h-2zM606 776.97h2v2.9h-2zM612 776.35h2v2.9h-2zM614 776.34h2v2.9h-2zM625.1 776h2v2.9h-2zM627.1 775.94h2v2.9h-2zM631.1 775.5h2v2.9h-2zM634.2 775.95h2v2.9h-2zM636.2 775.63h2v2.9h-2zM640.2 775.98h2v2.9h-2zM642.2 775.76h2v2.9h-2zM644.2 775.69h2v2.9h-2zM646.2 775.41h2v2.9h-2zM651.3 775.54h2v2.9h-2zM655.3 775.43h2v2.9h-2zM657.3 775.21h2v2.9h-2zM659.3 775.28h2v2.9h-2zM661.3 775.16h2v2.9h-2zM666.4 775.23h2v2.9h-2zM670.4 774.75h2v2.9h-2zM672.4 774.42h2v2.9h-2zM674.4 775.11h2v2.9h-2zM679.5 776.32h2v2.9h-2zM681.5 777.11h2v2.9h-2zM683.5 778.4h2v2.9h-2zM687.5 781.38h2v2.9h-2zM691.5 784.47h2v2.9h-2zM694.6 782.65h2v2.9h-2zM700.6 781.56h2v2.9h-2zM702.6 780.84h2v2.9h-2zM717.7 780.64h2v2.9h-2zM719.7 780.08h2v2.9h-2zM724.8 779.57h2v2.9h-2zM728.8 778.73h2v2.9h-2zM730.8 778.08h2v2.9h-2zM732.8 777.07h2v2.9h-2zM736.8 777.37h2v2.9h-2zM739.9 777.45h2v2.9h-2zM743.9 777.48h2v2.9h-2zM747.9 776.96h2v2.9h-2zM751.9 776.62h2v2.9h-2zM755 776.66h2v2.9h-2zM757 776.87h2v2.9h-2zM761 776.69h2v2.9h-2zM763 776.99h2v2.9h-2zM765 776.83h2v2.9h-2zM772.1 776.22h2v2.9h-2zM774.1 775.93h2v2.9h-2zM778.1 775.66h2v2.9h-2zM782.1 775.66h2v2.9h-2zM785.2 775.66h2v2.9h-2zM791.2 776.39h2v2.9h-2zM795.2 776.36h2v2.9h-2zM797.2 776.38h2v2.9h-2zM800.3 776.3h2v2.9h-2zM802.3 776.24h2v2.9h-2zM804.3 776.39h2v2.9h-2zM806.3 776.95h2v2.9h-2zM808.3 778.19h2v2.9h-2zM812.3 778.58h2v2.9h-2zM815.4 775.79h2v2.9h-2zM819.4 775.68h2v2.9h-2zM821.4 776.06h2v2.9h-2zM825.4 775.76h2v2.9h-2zM827.4 775.14h2v2.9h-2zM830.5 775.61h2v2.9h-2zM834.5 775.08h2v2.9h-2zM840.5 774.86h2v2.9h-2zM847.6 775.16h2v2.9h-2zM849.6 774.66h2v2.9h-2zM853.6 774.77h2v2.9h-2zM855.6 774.8h2v2.9h-2zM857.6 775.15h2v2.9h-2zM864.7 774.76h2v2.9h-2zM866.7 774.5h2v2.9h-2zM868.7 774.75h2v2.9h-2zM872.7 774.25h2v2.9h-2zM881.8 773.42h2v2.9h-2zM883.8 773.08h2v2.9h-2zM885.8 773.28h2v2.9h-2zM887.8 772.72h2v2.9h-2zM894.9 772.61h2v2.9h-2zM896.9 772.66h2v2.9h-2zM898.9 772.41h2v2.9h-2zM900.9 772.46h2v2.9h-2zM902.9 772.05h2v2.9h-2zM908 772.15h2v2.9h-2zM912 772.02h2v2.9h-2zM916 772.28h2v2.9h-2zM923.1 771.34h2v2.9h-2zM925.1 771.27h2v2.9h-2zM929.1 771.57h2v2.9h-2zM931.1 771.39h2v2.9h-2zM936.2 771.19h2v2.9h-2zM940.2 770.81h2v2.9h-2zM942.2 770.82h2v2.9h-2zM946.2 771.31h2v2.9h-2zM948.2 770.93h2v2.9h-2zM951.3 771.46h2v2.9h-2zM953.3 771.18h2v2.9h-2zM957.3 770.95h2v2.9h-2zM961.3 771.3h2v2.9h-2zM966.4 771.09h2v2.9h-2zM972.4 771.05h2v2.9h-2zM976.4 771.05h2v2.9h-2zM978.4 771.31h2v2.9h-2zM987.5 771.35h2v2.9h-2zM998.6 771.31h2v2.9h-2zM1002.6 771.15h2v2.9h-2zM1006.6 771.08h2v2.9h-2zM1011.7 771.02h2v2.9h-2zM1013.7 770.98h2v2.9h-2zM1017.7 770.22h2v2.9h-2zM1019.7 770.37h2v2.9h-2zM1023.7 771.45h2v2.9h-2zM1026.8 771.6h2v2.9h-2zM1028.8 771.65h2v2.9h-2zM1030.8 771.21h2v2.9h-2zM1036.8 771.18h2v2.9h-2zM1038.8 771.08h2v2.9h-2zM1043.9 770.86h2v2.9h-2zM1049.9 771.02h2v2.9h-2zM1053.9 771.23h2v2.9h-2zM1059 771.71h2v2.9h-2zM1061 772h2v2.9h-2zM1063 772.05h2v2.9h-2zM1065 772.31h2v2.9h-2zM1067 772.89h2v2.9h-2zM1069 773.28h2v2.9h-2zM1074.1 775.21h2v2.9h-2zM1076.1 775.99h2v2.9h-2zM1078.1 775.83h2v2.9h-2zM1089.2 774.19h2v2.9h-2zM1093.2 773.46h2v2.9h-2zM1095.2 773.88h2v2.9h-2zM1097.2 773.96h2v2.9h-2zM1099.2 773.99h2v2.9h-2zM1104.3 773.8h2v2.9h-2zM1106.3 774.1h2v2.9h-2zM1108.3 773.87h2v2.9h-2zM1119.4 774.12h2v2.9h-2zM1127.4 773.95h2v2.9h-2zM1129.4 774.23h2v2.9h-2zM1136.5 774.92h2v2.9h-2zM1138.5 775.4h2v2.9h-2zM1140.5 775.72h2v2.9h-2zM1147.6 775.66h2v2.9h-2zM1149.6 775.44h2v2.9h-2zM1151.6 775.82h2v2.9h-2zM1155.6 775.43h2v2.9h-2zM1157.6 775.77h2v2.9h-2zM1159.6 775.36h2v2.9h-2zM1162.7 775.58h2v2.9h-2zM1166.7 776.1h2v2.9h-2zM1168.7 776.22h2v2.9h-2zM1172.7 776.13h2v2.9h-2zM1179.8 776.84h2v2.9h-2zM1183.8 777.3h2v2.9h-2zM1185.8 777.53h2v2.9h-2zM1194.9 776.25h2v2.9h-2zM1200.9 775.83h2v2.9h-2zM1208 774.71h2v2.9h-2zM1210 774.07h2v2.9h-2zM1218 773.96h2v2.9h-2zM1220 774.02h2v2.9h-2zM1223.1 773.77h2v2.9h-2zM1225.1 773.84h2v2.9h-2zM1231.1 774.01h2v2.9h-2zM1233.1 773.64h2v2.9h-2zM1240.2 773.09h2v2.9h-2zM1242.2 772.9h2v2.9h-2zM1244.2 772.33h2v2.9h-2zM1248.2 772.41h2v2.9h-2zM1250.2 772.37h2v2.9h-2zM1265.3 771.9h2v2.9h-2zM1272.4 771.66h2v2.9h-2zM1276.4 771.88h2v2.9h-2zM1278.4 771.7h2v2.9h-2zM1295.5 770.91h2v2.9h-2zM1298.6 770.65h2v2.9h-2zM1304.6 770.77h2v2.9h-2zM1306.6 770.33h2v2.9h-2zM1308.6 770.73h2v2.9h-2zM1310.6 770.35h2v2.9h-2zM1313.7 770.04h2v2.9h-2zM1317.7 770.19h2v2.9h-2zM1323.7 769.84h2v2.9h-2zM1330.8 770.1h2v2.9h-2zM1332.8 770.37h2v2.9h-2zM1334.8 770.38h2v2.9h-2zM1336.8 769.84h2v2.9h-2zM1340.8 769.92h2v2.9h-2zM1345.9 770.17h2v2.9h-2zM1351.9 770.44h2v2.9h-2zM1353.9 770.79h2v2.9h-2zM1363 771h2v2.9h-2zM1365 770.88h2v2.9h-2zM1367 771.27h2v2.9h-2zM1369 771.3h2v2.9h-2zM1371 770.87h2v2.9h-2zM1378.1 771.11h2v2.9h-2zM1384.1 771.47h2v2.9h-2zM1391.2 771.58h2v2.9h-2zM1395.2 771.42h2v2.9h-2zM1397.2 771.88h2v2.9h-2zM1399.2 771.33h2v2.9h-2zM1404.3 771.14h2v2.9h-2zM1406.3 771.01h2v2.9h-2zM1408.3 770.91h2v2.9h-2zM1410.3 770.47h2v2.9h-2zM1416.3 769.29h2v2.9h-2zM1421.4 768.27h2v2.9h-2zM1425.4 767.99h2v2.9h-2zM1427.4 768.3h2v2.9h-2zM1434.5 768.85h2v2.9h-2zM1440.5 769.34h2v2.9h-2zM1444.5 768.91h2v2.9h-2zM1453.6 768.64h2v2.9h-2zM1457.6 767.87h2v2.9h-2zM1461.6 767.89h2v2.9h-2zM1464.7 767.59h2v2.9h-2zM1466.7 767.63h2v2.9h-2zM1472.7 767.42h2v2.9h-2z" fill="#1f8c95"/>
<path d="M6 780.84h2v2.9h-2zM12 781.1h2v2.9h-2zM17.1 781.2h2v2.9h-2zM27.1 780.84h2v2.9h-2zM30.2 780.66h2v2.9h-2zM40.2 780.23h2v2.9h-2zM45.3 780.29h2v2.9h-2zM47.3 779.77h2v2.9h-2zM49.3 779.84h2v2.9h-2zM55.3 779.36h2v2.9h-2zM60.4 778.79h2v2.9h-2zM62.4 779.24h2v2.9h-2zM66.4 779.06h2v2.9h-2zM70.4 779.03h2v2.9h-2zM72.4 778.7h2v2.9h-2zM75.5 778.34h2v2.9h-2zM77.5 778.75h2v2.9h-2zM81.5 778.57h2v2.9h-2zM87.5 778.34h2v2.9h-2zM92.6 778.57h2v2.9h-2zM96.6 778.55h2v2.9h-2zM98.6 778.6h2v2.9h-2zM102.6 778h2v2.9h-2zM115.7 777.5h2v2.9h-2zM117.7 777.84h2v2.9h-2zM120.8 777.41h2v2.9h-2zM124.8 777.47h2v2.9h-2zM126.8 777.35h2v2.9h-2zM130.8 776.59h2v2.9h-2zM143.9 776.32h2v2.9h-2zM153 777.04h2v2.9h-2zM163 776.91h2v2.9h-2zM170.1 777.5h2v2.9h-2zM172.1 777.8h2v2.9h-2zM176.1 777.42h2v2.9h-2zM178.1 777.67h2v2.9h-2zM183.2 777.87h2v2.9h-2zM185.2 777.9h2v2.9h-2zM187.2 777.87h2v2.9h-2zM189.2 777.46h2v2.9h-2zM196.3 777.09h2v2.9h-2zM200.3 777.3h2v2.9h-2zM208.3 776.64h2v2.9h-2zM213.4 776.5h2v2.9h-2zM215.4 776.03h2v2.9h-2zM217.4 776.55h2v2.9h-2zM221.4 775.92h2v2.9h-2zM223.4 776.03h2v2.9h-2zM228.5 776.08h2v2.9h-2zM234.5 776.43h2v2.9h-2zM236.5 775.93h2v2.9h-2zM238.5 776.58h2v2.9h-2zM241.6 776.24h2v2.9h-2zM245.6 776.8h2v2.9h-2zM247.6 776.56h2v2.9h-2zM249.6 776.56h2v2.9h-2zM256.7 775.89h2v2.9h-2zM260.7 775.42h2v2.9h-2zM264.7 776.24h2v2.9h-2zM266.7 776.41h2v2.9h-2zM268.7 776.75h2v2.9h-2zM275.8 777.14h2v2.9h-2zM279.8 777.71h2v2.9h-2zM281.8 777.46h2v2.9h-2zM283.8 777.65h2v2.9h-2zM286.9 777.37h2v2.9h-2zM290.9 777.84h2v2.9h-2zM292.9 777.69h2v2.9h-2zM296.9 777.73h2v2.9h-2zM298.9 777.66h2v2.9h-2zM302 777.56h2v2.9h-2zM304 777.42h2v2.9h-2zM306 777.42h2v2.9h-2zM310 777h2v2.9h-2zM319.1 776.25h2v2.9h-2zM321.1 776.71h2v2.9h-2zM323.1 776.23h2v2.9h-2zM327.1 776.66h2v2.9h-2zM329.1 776.16h2v2.9h-2zM334.2 776.94h2v2.9h-2zM349.3 777.58h2v2.9h-2zM351.3 777.32h2v2.9h-2zM353.3 777.72h2v2.9h-2zM357.3 776.88h2v2.9h-2zM362.4 776.74h2v2.9h-2zM366.4 776.52h2v2.9h-2zM368.4 776.91h2v2.9h-2zM374.4 776.86h2v2.9h-2zM377.5 777.36h2v2.9h-2zM379.5 777.04h2v2.9h-2zM381.5 777.09h2v2.9h-2zM385.5 777.57h2v2.9h-2zM407.7 778.51h2v2.9h-2zM415.7 779.24h2v2.9h-2zM417.7 779.4h2v2.9h-2zM419.7 779.79h2v2.9h-2zM422.8 779.66h2v2.9h-2zM424.8 779.98h2v2.9h-2zM430.8 779.73h2v2.9h-2zM434.8 779.88h2v2.9h-2zM437.9 780.59h2v2.9h-2zM445.9 780.59h2v2.9h-2zM447.9 781.19h2v2.9h-2zM449.9 780.76h2v2.9h-2zM457 780.54h2v2.9h-2zM459 780.24h2v2.9h-2zM470.1 780.14h2v2.9h-2zM472.1 780.23h2v2.9h-2zM474.1 780.18h2v2.9h-2zM480.1 780.09h2v2.9h-2zM483.2 779.45h2v2.9h-2zM485.2 779.94h2v2.9h-2zM487.2 779.72h2v2.9h-2zM489.2 779.2h2v2.9h-2zM491.2 779.35h2v2.9h-2zM493.2 779.45h2v2.9h-2zM495.2 779.19h2v2.9h-2zM498.3 779.01h2v2.9h-2zM504.3 778.13h2v2.9h-2zM506.3 778.29h2v2.9h-2zM508.3 778.17h2v2.9h-2zM513.4 778.09h2v2.9h-2zM515.4 777.84h2v2.9h-2zM525.4 777.82h2v2.9h-2zM530.5 777.74h2v2.9h-2zM532.5 777.98h2v2.9h-2zM545.6 777.89h2v2.9h-2zM555.6 777.8h2v2.9h-2zM560.7 778.1h2v2.9h-2zM564.7 777.99h2v2.9h-2zM566.7 778.15h2v2.9h-2zM568.7 778.26h2v2.9h-2zM573.8 778.76h2v2.9h-2zM575.8 778.75h2v2.9h-2zM577.8 778.22h2v2.9h-2zM588.9 777.91h2v2.9h-2zM590.9 777.63h2v2.9h-2zM594.9 778.14h2v2.9h-2zM600.9 777.98h2v2.9h-2zM608 776.65h2v2.9h-2zM610 776.58h2v2.9h-2zM616 776.05h2v2.9h-2zM619.1 776.31h2v2.9h-2zM621.1 776.07h2v2.9h-2zM623.1 776.22h2v2.9h-2zM629.1 775.89h2v2.9h-2zM638.2 775.51h2v2.9h-2zM649.3 775.38h2v2.9h-2zM653.3 775.79h2v2.9h-2zM664.4 775.22h2v2.9h-2zM668.4 774.89h2v2.9h-2zM676.4 775.18h2v2.9h-2zM685.5 779.99h2v2.9h-2zM689.5 782.4h2v2.9h-2zM696.6 781.55h2v2.9h-2zM698.6 781.66h2v2.9h-2zM704.6 781.06h2v2.9h-2zM706.6 781.29h2v2.9h-2zM709.7 780.98h2v2.9h-2zM711.7 780.78h2v2.9h-2zM713.7 780.42h2v2.9h-2zM715.7 780.49h2v2.9h-2zM721.7 780.24h2v2.9h-2zM726.8 779.63h2v2.9h-2zM734.8 777.08h2v2.9h-2zM741.9 778.24h2v2.9h-2zM745.9 777.32h2v2.9h-2zM749.9 776.96h2v2.9h-2zM759 776.93h2v2.9h-2zM767 776.3h2v2.9h-2zM770.1 776.19h2v2.9h-2zM776.1 776.13h2v2.9h-2zM780.1 775.67h2v2.9h-2zM787.2 776.29h2v2.9h-2zM789.2 776.21h2v2.9h-2zM793.2 775.91h2v2.9h-2zM810.3 779.5h2v2.9h-2zM817.4 775.91h2v2.9h-2zM823.4 775.62h2v2.9h-2zM832.5 775.43h2v2.9h-2zM836.5 775.44h2v2.9h-2zM838.5 774.89h2v2.9h-2zM842.5 774.58h2v2.9h-2zM845.6 775.14h2v2.9h-2zM851.6 775.17h2v2.9h-2zM860.7 775.03h2v2.9h-2zM862.7 774.98h2v2.9h-2zM870.7 774.28h2v2.9h-2zM875.8 773.93h2v2.9h-2zM877.8 773.91h2v2.9h-2zM879.8 774.08h2v2.9h-2zM890.9 772.71h2v2.9h-2zM892.9 772.73h2v2.9h-2zM906 771.89h2v2.9h-2zM910 771.98h2v2.9h-2zM914 772.19h2v2.9h-2zM918 771.88h2v2.9h-2zM921.1 772.04h2v2.9h-2zM927.1 771.73h2v2.9h-2zM933.1 770.83h2v2.9h-2zM938.2 771.01h2v2.9h-2zM944.2 770.97h2v2.9h-2zM955.3 771.49h2v2.9h-2zM959.3 771.16h2v2.9h-2zM963.3 770.95h2v2.9h-2zM968.4 771.02h2v2.9h-2zM970.4 771.02h2v2.9h-2zM974.4 771.4h2v2.9h-2zM981.5 770.83h2v2.9h-2zM983.5 771.19h2v2.9h-2zM985.5 771.24h2v2.9h-2zM989.5 771.1h2v2.9h-2zM991.5 771.6h2v2.9h-2zM993.5 771.28h2v2.9h-2zM996.6 771.54h2v2.9h-2zM1000.6 771.51h2v2.9h-2zM1004.6 771.58h2v2.9h-2zM1008.6 771.54h2v2.9h-2zM1015.7 770.62h2v2.9h-2zM1021.7 770.63h2v2.9h-2zM1032.8 771.47h2v2.9h-2zM1034.8 770.84h2v2.9h-2zM1041.9 770.75h2v2.9h-2zM1045.9 770.81h2v2.9h-2zM1047.9 770.91h2v2.9h-2zM1051.9 770.81h2v2.9h-2zM1057 771.63h2v2.9h-2zM1072.1 774.58h2v2.9h-2zM1080.1 774.96h2v2.9h-2zM1082.1 774.29h2v2.9h-2zM1084.1 773.85h2v2.9h-2zM1087.2 773.96h2v2.9h-2zM1091.2 774.03h2v2.9h-2zM1102.3 773.92h2v2.9h-2zM1110.3 774.05h2v2.9h-2zM1112.3 774.38h2v2.9h-2zM1114.3 773.89h2v2.9h-2zM1117.4 773.79h2v2.9h-2zM1121.4 774.24h2v2.9h-2zM1123.4 774h2v2.9h-2zM1125.4 773.63h2v2.9h-2zM1132.5 774.78h2v2.9h-2zM1134.5 774.6h2v2.9h-2zM1142.5 775.85h2v2.9h-2zM1144.5 775.89h2v2.9h-2zM1153.6 775.72h2v2.9h-2zM1164.7 775.75h2v2.9h-2zM1170.7 775.97h2v2.9h-2zM1174.7 776.17h2v2.9h-2zM1177.8 776.99h2v2.9h-2zM1181.8 776.74h2v2.9h-2zM1187.8 777.53h2v2.9h-2zM1189.8 776.79h2v2.9h-2zM1192.9 776.25h2v2.9h-2zM1196.9 775.76h2v2.9h-2zM1198.9 775.47h2v2.9h-2zM1202.9 775.02h2v2.9h-2zM1204.9 774.94h2v2.9h-2zM1212 773.59h2v2.9h-2zM1214 773.85h2v2.9h-2zM1216 773.38h2v2.9h-2zM1227.1 773.98h2v2.9h-2zM1229.1 774.26h2v2.9h-2zM1235.1 773.55h2v2.9h-2zM1238.2 772.78h2v2.9h-2zM1246.2 772.54h2v2.9h-2zM1253.3 771.72h2v2.9h-2zM1255.3 771.94h2v2.9h-2zM1257.3 771.97h2v2.9h-2zM1259.3 771.83h2v2.9h-2zM1261.3 771.99h2v2.9h-2zM1263.3 771.81h2v2.9h-2zM1268.4 771.65h2v2.9h-2zM1270.4 771.58h2v2.9h-2zM1274.4 771.68h2v2.9h-2zM1280.4 772.21h2v2.9h-2zM1283.5 772.27h2v2.9h-2zM1285.5 771.74h2v2.9h-2zM1287.5 771.78h2v2.9h-2zM1289.5 771.93h2v2.9h-2zM1291.5 771.23h2v2.9h-2zM1293.5 771.65h2v2.9h-2zM1300.6 771.05h2v2.9h-2zM1302.6 770.84h2v2.9h-2zM1315.7 770.17h2v2.9h-2zM1319.7 770.57h2v2.9h-2zM1321.7 770.45h2v2.9h-2zM1325.7 770.08h2v2.9h-2zM1328.8 769.96h2v2.9h-2zM1338.8 770.42h2v2.9h-2zM1343.9 770.33h2v2.9h-2zM1347.9 770.35h2v2.9h-2zM1349.9 770.35h2v2.9h-2zM1355.9 770.45h2v2.9h-2zM1359 770.53h2v2.9h-2zM1361 771.01h2v2.9h-2zM1374.1 771.41h2v2.9h-2zM1376.1 771.12h2v2.9h-2zM1380.1 771.41h2v2.9h-2zM1382.1 771.66h2v2.9h-2zM1386.1 771.42h2v2.9h-2zM1389.2 771.92h2v2.9h-2zM1393.2 771.94h2v2.9h-2zM1401.2 771.62h2v2.9h-2zM1412.3 770.63h2v2.9h-2zM1414.3 769.72h2v2.9h-2zM1419.4 769.02h2v2.9h-2zM1423.4 767.94h2v2.9h-2zM1429.4 768.42h2v2.9h-2zM1431.4 768.73h2v2.9h-2zM1436.5 768.6h2v2.9h-2zM1438.5 768.88h2v2.9h-2zM1442.5 769.06h2v2.9h-2zM1446.5 769.09h2v2.9h-2zM1449.6 769.06h2v2.9h-2zM1451.6 768.99h2v2.9h-2zM1455.6 768.21h2v2.9h-2zM1459.6 768.15h2v2.9h-2zM1468.7 767.57h2v2.9h-2zM1470.7 767.13h2v2.9h-2zM1474.7 767.1h2v2.9h-2z" fill="#b8434b"/>
<line x1="0" y1="797.5" x2="1489" y2="797.5" stroke="#7f7f7f"/>
<line x1="1425" y1="756.5" x2="1425" y2="797" stroke="#9a9a9a" stroke-width="1.9"/>
<rect x="1422.4" y="765" width="5.2" height="23.7" rx="2.6" fill="#9a9a9a"/>
<line x1="1479" y1="756.5" x2="1479" y2="797" stroke="#9a9a9a" stroke-width="1.9"/>
<rect x="1476.4" y="765" width="5.2" height="23.7" rx="2.6" fill="#9a9a9a"/>
<rect x="1" y="758.5" width="14.5" height="14.5" fill="#fff"/>
<path d="M4.5 762 L12 769.5 M12 762 L4.5 769.5" stroke="#8a8a8a" stroke-width="2.2"/>
<text x="6" y="813" class="dt" text-anchor="middle">16</text>
<line x1="61.5" y1="797" x2="61.5" y2="801.5" stroke="#7f7f7f"/>
<text x="61.5" y="813" class="dt" text-anchor="middle">2017</text>
<line x1="257.5" y1="797" x2="257.5" y2="801.5" stroke="#7f7f7f"/>
<text x="257.5" y="813" class="dt" text-anchor="middle">2018</text>
<line x1="454.5" y1="797" x2="454.5" y2="801.5" stroke="#7f7f7f"/>
<text x="454.5" y="813" class="dt" text-anchor="middle">2019</text>
<line x1="650.5" y1="797" x2="650.5" y2="801.5" stroke="#7f7f7f"/>
<text x="650.5" y="813" class="dt" text-anchor="middle">2020</text>
<line x1="846.5" y1="797" x2="846.5" y2="801.5" stroke="#7f7f7f"/>
<text x="846.5" y="813" class="dt" text-anchor="middle">2021</text>
<line x1="1042.5" y1="797" x2="1042.5" y2="801.5" stroke="#7f7f7f"/>
<text x="1042.5" y="813" class="dt" text-anchor="middle">2022</text>
<line x1="1238.5" y1="797" x2="1238.5" y2="801.5" stroke="#7f7f7f"/>
<text x="1238.5" y="813" class="dt" text-anchor="middle">2023</text>
<line x1="1435.5" y1="797" x2="1435.5" y2="801.5" stroke="#7f7f7f"/>
<text x="1435.5" y="813" class="dt" text-anchor="middle">2024</text>
<text x="9.3" y="564" class="lb" textLength="70.3" lengthAdjust="spacingAndGlyphs">CANDLE PTNS</text>
<text x="82.6" y="564" class="ln">12</text>
<path d="M110.4 559.05 L110.4 559.95 L111.7 559.95 L111.7 562.05 L110.4 562.05 L110.46 562.8 L109.82 563.44 L110.74 564.36 L109.26 565.84 L108.34 564.92 L107.85 565.5 L106.95 565.5 L106.95 566.8 L104.85 566.8 L104.85 565.5 L104.1 565.56 L103.46 564.92 L102.54 565.84 L101.06 564.36 L101.98 563.44 L101.4 562.95 L101.4 562.05 L100.1 562.05 L100.1 559.95 L101.4 559.95 L101.34 559.2 L101.98 558.56 L101.06 557.64 L102.54 556.16 L103.46 557.08 L103.95 556.5 L104.85 556.5 L104.85 555.2 L106.95 555.2 L106.95 556.5 L107.7 556.44 L108.34 557.08 L109.26 556.16 L110.74 557.64 L109.82 558.56 Z M107.85 561 A1.95 1.95 0 1 0 103.95 561 A1.95 1.95 0 1 0 107.85 561 Z" fill="#9a9a9a" fill-rule="evenodd"/>
<path d="M119.7 557.7 L126.3 564.3 M126.3 557.7 L119.7 564.3" stroke="#9a9a9a" stroke-width="2.6" stroke-linecap="round"/>
<text x="141.1" y="564" class="lb" textLength="63.8" lengthAdjust="spacingAndGlyphs">PRO TRENDS</text>
<text x="208.7" y="564" class="ln">150 3 10 2 14 2 3 8</text>
<path d="M315.7 559.05 L315.7 559.95 L317 559.95 L317 562.05 L315.7 562.05 L315.76 562.8 L315.12 563.44 L316.04 564.36 L314.56 565.84 L313.64 564.92 L313.15 565.5 L312.25 565.5 L312.25 566.8 L310.15 566.8 L310.15 565.5 L309.4 565.56 L308.76 564.92 L307.84 565.84 L306.36 564.36 L307.28 563.44 L306.7 562.95 L306.7 562.05 L305.4 562.05 L305.4 559.95 L306.7 559.95 L306.64 559.2 L307.28 558.56 L306.36 557.64 L307.84 556.16 L308.76 557.08 L309.25 556.5 L310.15 556.5 L310.15 555.2 L312.25 555.2 L312.25 556.5 L313 556.44 L313.64 557.08 L314.56 556.16 L316.04 557.64 L315.12 558.56 Z M313.15 561 A1.95 1.95 0 1 0 309.25 561 A1.95 1.95 0 1 0 313.15 561 Z" fill="#9a9a9a" fill-rule="evenodd"/>
<path d="M325.1 557.7 L331.7 564.3 M331.7 557.7 L325.1 564.3" stroke="#9a9a9a" stroke-width="2.6" stroke-linecap="round"/>
<text x="346.1" y="564" class="lb" textLength="29.9" lengthAdjust="spacingAndGlyphs">VWAP</text>
<text x="379.3" y="564" class="ln">20 1 2 3</text>
<path d="M432.4 559.05 L432.4 559.95 L433.7 559.95 L433.7 562.05 L432.4 562.05 L432.46 562.8 L431.82 563.44 L432.74 564.36 L431.26 565.84 L430.34 564.92 L429.85 565.5 L428.95 565.5 L428.95 566.8 L426.85 566.8 L426.85 565.5 L426.1 565.56 L425.46 564.92 L424.54 565.84 L423.06 564.36 L423.98 563.44 L423.4 562.95 L423.4 562.05 L422.1 562.05 L422.1 559.95 L423.4 559.95 L423.34 559.2 L423.98 558.56 L423.06 557.64 L424.54 556.16 L425.46 557.08 L425.95 556.5 L426.85 556.5 L426.85 555.2 L428.95 555.2 L428.95 556.5 L429.7 556.44 L430.34 557.08 L431.26 556.16 L432.74 557.64 L431.82 558.56 Z M429.85 561 A1.95 1.95 0 1 0 425.95 561 A1.95 1.95 0 1 0 429.85 561 Z" fill="#9a9a9a" fill-rule="evenodd"/>
<path d="M441.6 557.7 L448.2 564.3 M448.2 557.7 L441.6 564.3" stroke="#9a9a9a" stroke-width="2.6" stroke-linecap="round"/>
<text x="9.3" y="592.9" class="st" fill="#a8a8a8">TODAY:</text>
<text x="62.2" y="592.9" class="st" fill="#a8a8a8">H:</text>
<text x="75.8" y="592.9" class="st" fill="#222">18260.1</text>
<text x="122.1" y="592.9" class="st" fill="#a8a8a8">L:</text>
<text x="133.2" y="592.9" class="st" fill="#222">18203.1</text>
<text x="184.4" y="592.9" class="st" fill="#d0393f">-7.0</text>
<text x="230" y="592.9" class="st" fill="#d0393f">-0.0%</text>
<text x="9.3" y="607.1" class="st" fill="#a8a8a8">CHART:</text>
<text x="62.2" y="607.1" class="st" fill="#a8a8a8">H:</text>
<text x="75.8" y="607.1" class="st" fill="#222">18260.1</text>
<text x="122.1" y="607.1" class="st" fill="#a8a8a8">L:</text>
<text x="133.2" y="607.1" class="st" fill="#222">16343.5</text>
<text x="184.4" y="607.1" class="st" fill="#2a9aaa">1481.5</text>
<text x="230" y="607.1" class="st" fill="#2a9aaa">8.9%</text>
<text x="9.3" y="646" class="lb" textLength="15" lengthAdjust="spacingAndGlyphs">RSI</text>
<text x="28.2" y="646" class="ln">14</text>
<path d="M55.5 640.65 L55.5 641.55 L56.8 641.55 L56.8 643.65 L55.5 643.65 L55.56 644.4 L54.92 645.04 L55.84 645.96 L54.36 647.44 L53.44 646.52 L52.95 647.1 L52.05 647.1 L52.05 648.4 L49.95 648.4 L49.95 647.1 L49.2 647.16 L48.56 646.52 L47.64 647.44 L46.16 645.96 L47.08 645.04 L46.5 644.55 L46.5 643.65 L45.2 643.65 L45.2 641.55 L46.5 641.55 L46.44 640.8 L47.08 640.16 L46.16 639.24 L47.64 637.76 L48.56 638.68 L49.05 638.1 L49.95 638.1 L49.95 636.8 L52.05 636.8 L52.05 638.1 L52.8 638.04 L53.44 638.68 L54.36 637.76 L55.84 639.24 L54.92 640.16 Z M52.95 642.6 A1.95 1.95 0 1 0 49.05 642.6 A1.95 1.95 0 1 0 52.95 642.6 Z" fill="#9a9a9a" fill-rule="evenodd"/>
<path d="M65.2 639.3 L71.8 645.9 M71.8 639.3 L65.2 645.9" stroke="#9a9a9a" stroke-width="2.6" stroke-linecap="round"/>
<rect x="0" y="0" width="1489" height="37" fill="#000"/>
<rect x="7" y="8" width="22" height="22" fill="#fff"/>
<g stroke="#e4e4e4" stroke-width="1"><line x1="9" y1="10.6" x2="26.6" y2="10.6"/><line x1="9" y1="14.4" x2="26.6" y2="14.4"/><line x1="9" y1="18.3" x2="26.6" y2="18.3"/><line x1="9" y1="22.3" x2="26.6" y2="22.3"/><line x1="9" y1="26.4" x2="26.6" y2="26.4"/></g>
<polyline points="10,25.4 14.5,15.6 19.5,20.4 25.4,12.8" fill="none" stroke="#178a96" stroke-width="2.4" stroke-linecap="round"/>
<text x="39.2" y="23.9" class="ttl" textLength="145.5" lengthAdjust="spacing">GERMANY 40, DAILY</text>
<circle cx="201.5" cy="17" r="4.2" fill="none" stroke="#e0e0e0" stroke-width="1.3"/><line x1="204.6" y1="20.3" x2="209.4" y2="24.7" stroke="#e0e0e0" stroke-width="1.7" stroke-linecap="round"/>
<line x1="1420" y1="25" x2="1433" y2="25" stroke="#ddd" stroke-width="2"/>
<rect x="1443" y="16.9" width="8" height="8" fill="none" stroke="#ddd" stroke-width="1.8"/>
<path d="M1447.5 21 H1453.5" stroke="#ddd" stroke-width="1.6"/><path d="M1453 18.2 L1456.5 21 L1453 23.8 Z" fill="#ddd"/>
<path d="M1454.1 11 V17 M1451.1 14 H1457.1" stroke="#ddd" stroke-width="1.8"/>
<path d="M1465.5 11.5 L1479.5 25.5 M1479.5 11.5 L1465.5 25.5" stroke="#ddd" stroke-width="1.3"/>
<text x="11.5" y="60.7" class="mi" textLength="30.6" lengthAdjust="spacingAndGlyphs">Daily</text>
<path d="M47.3 54.3 h10.2 l-5.1 6 z" fill="#555"/>
<text x="78.3" y="60.7" class="mi" textLength="57.3" lengthAdjust="spacingAndGlyphs">Technical</text>
<path d="M142 54.3 h10.2 l-5.1 6 z" fill="#555"/>
<text x="172.9" y="60.7" class="mi" textLength="44.5" lengthAdjust="spacingAndGlyphs">Display</text>
<path d="M222.5 54.3 h10.2 l-5.1 6 z" fill="#555"/>
<text x="253.4" y="60.7" class="mi" textLength="31.4" lengthAdjust="spacingAndGlyphs">More</text>
<path d="M290.6 54.3 h10.2 l-5.1 6 z" fill="#555"/>
<path d="M333.5 53.8 V53.1 Q333.5 52.5 332.9 52.5 H329.6 L327.6 50.4 H323.1 Q322.3 50.4 322.3 51.2 V61.4 Q322.3 62.2 323.2 62.2" fill="none" stroke="#333" stroke-width="1"/>
<path d="M327.3 55.3 H336.9 L334.2 61.7 Q333.9 62.3 333.2 62.3 H323.5 Z" fill="#333"/>
<path d="M357.6 49 H368.9 L370.8 50.9 V62.4 Q370.8 63.75 369.5 63.75 H357.6 Q356.3 63.75 356.3 62.4 V50.3 Q356.3 49 357.6 49 Z" fill="#333"/>
<rect x="359.9" y="49.8" width="7.1" height="4.1" fill="#fff"/><rect x="364.4" y="50.6" width="1.6" height="2.1" fill="#333"/><rect x="358.1" y="56.1" width="10.9" height="6.6" rx="0.9" fill="#fff"/>
<rect x="388.8" y="55.3" width="13.1" height="2.8" fill="#111"/>
<rect x="421" y="54.9" width="13.2" height="2.9" fill="#111"/><rect x="426.2" y="49.9" width="2.9" height="12.9" fill="#111"/>
<text x="1176.6" y="61.9" class="cp" textLength="112" lengthAdjust="spacing">CURRENT PRICE:</text>
<rect x="1307" y="44.2" width="84" height="23.2" fill="#c0282f"/>
<path d="M1315.5 44.5 H1318.5 V49.5 H1321.5 L1317 55 L1312.5 49.5 H1315.5 Z" fill="#8e1a1f"/>
<text x="1322.4" y="60.1" class="pb">18208.<tspan dx="0.5" style="font-size:10.5px">6</tspan></text>
<rect x="1402" y="44.2" width="84" height="23.2" fill="#178b97"/>
<path d="M1475 55 H1478 V50 H1481 L1476.5 44.5 L1472 50 H1475 Z" fill="#0f5f66"/>
<text x="1416.5" y="60.1" class="pb" style="letter-spacing:1.1px">18211.<tspan dx="0.5" style="font-size:10.5px">6</tspan></text>
</svg>
</body></html>
